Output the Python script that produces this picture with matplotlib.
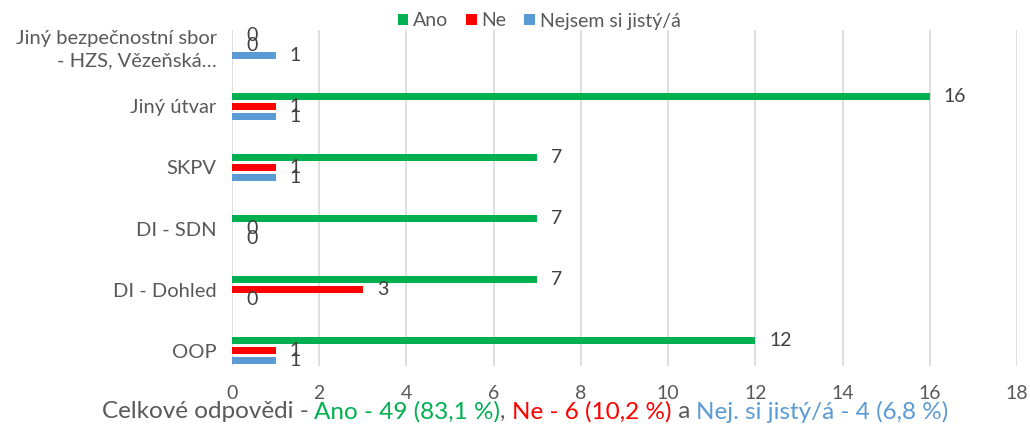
import numpy as np
import matplotlib
matplotlib.use("Agg")
import matplotlib.pyplot as plt

plt.rcParams['font.family'] = ['Lato', 'DejaVu Sans']

# categories from bottom to top
categories = ["OOP", "DI - Dohled", "DI - SDN", "SKPV", "Jiný útvar",
              "Jiný bezpečnostní sbor\n- HZS, Vězeňská…"]
ano = [12, 7, 7, 7, 16, 0]
ne = [1, 3, 0, 1, 1, 0]
nejsem = [1, 0, 0, 1, 1, 1]
series_names = ["Ano", "Ne", "Nejsem si jistý/á"]
colors = ["#00B050", "#FF0000", "#5B9BD5"]
xticks = list(range(0, 19, 2))

footer = [("Celkové odpovědi - ", "#595959"),
          ("Ano - 49 (83,1 %)", "#00B050"),
          (", ", "#595959"),
          ("Ne - 6 (10,2 %)", "#FF0000"),
          (" a ", "#595959"),
          ("Nej. si jistý/á - 4 (6,8 %)", "#5B9BD5")]

W, H = 1030, 426
fig = plt.figure(figsize=(W / 100, H / 100), dpi=100)
ax = fig.add_axes([232 / W, 1 - 366 / H, (1017 - 232) / W, (366 - 30) / H])

y = np.arange(len(categories))
off = 0.163
h = 0.115
for vals, dy, col, name in zip([ano, ne, nejsem], [off, 0, -off], colors, series_names):
    ax.barh(y + dy, vals, height=h, color=col, label=name)
    for yy, v in zip(y + dy, vals):
        ax.annotate(str(v), (v, yy), xytext=(14, 0), textcoords="offset pixels",
                    ha="left", va="center", fontsize=14, color="#404040")

ax.set_xlim(0, 18)
ax.set_ylim(-0.25, 5.25)
ax.set_xticks(xticks)
ax.set_yticks(y)
ax.set_yticklabels(categories, fontsize=14.5, color="#595959", linespacing=1.4)
ax.tick_params(axis="y", length=0, pad=11)
ax.tick_params(axis="x", length=0, pad=14, labelsize=14, labelcolor="#595959")
for s in ax.spines.values():
    s.set_visible(False)
ax.grid(axis="x", color="#D9D9D9", linewidth=1.2)
ax.set_axisbelow(True)

ax.legend(loc="center", bbox_to_anchor=(539 / W, 1 - 21 / H), bbox_transform=fig.transFigure,
          ncol=3, frameon=False, fontsize=14, handlelength=0.55, handleheight=0.55,
          handletextpad=0.25, columnspacing=0.9, labelcolor="#595959")

# multi-coloured footer line
texts = [fig.text(0, 1 - 412 / H, s, color=c, fontsize=17.5, va="center", ha="left")
         for s, c in footer]
fig.canvas.draw()
r = fig.canvas.get_renderer()
widths = [t.get_window_extent(r).width for t in texts]
x = 525 - sum(widths) / 2
for t, w in zip(texts, widths):
    t.set_x(x / W)
    x += w

fig.savefig("out.png", dpi=100)
